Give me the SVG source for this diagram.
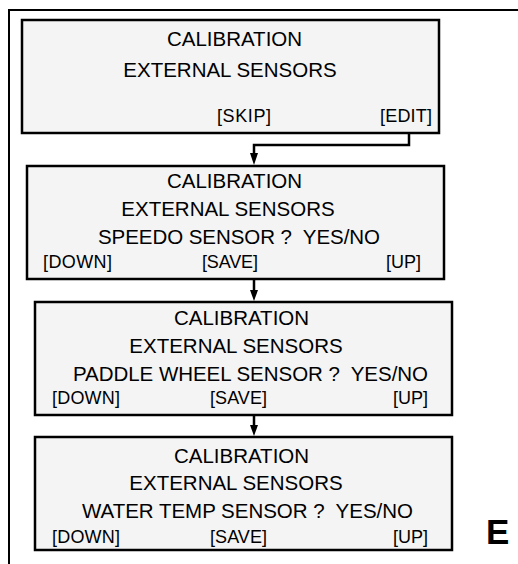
<svg xmlns="http://www.w3.org/2000/svg" width="518" height="564" viewBox="0 0 518 564">
<style>
.box{fill:#f4f4f4;stroke:#000;stroke-width:2.5}
.t{font-family:"Liberation Sans",Arial,sans-serif;font-size:20.5px;fill:#000;white-space:pre}
.s{font-family:"Liberation Sans",Arial,sans-serif;font-size:18px;fill:#000}
.c{fill:none;stroke:#000;stroke-width:2.5}
.ah{fill:#000}
</style>
<rect width="518" height="564" fill="#fff"/>
<g id="frame">
<path d="M9,564 L9,10 L518,10" fill="none" stroke="#000" stroke-width="2"/>
</g>
<g id="connectors">
<path class="c" d="M409,133 L409,145 L254,145 L254,154"/>
<path class="ah" d="M250,153 L258,153 L254,165 Z"/>
<path class="c" d="M254,279 L254,291"/>
<path class="ah" d="M250,290 L258,290 L254,301 Z"/>
<path class="c" d="M254,415 L254,426"/>
<path class="ah" d="M250,425 L258,425 L254,436 Z"/>
</g>
<g id="node1">
<rect class="box" x="22" y="20" width="417" height="113"/>
<text class="t" x="234.5" y="46" text-anchor="middle">CALIBRATION</text>
<text class="t" x="230" y="77" text-anchor="middle">EXTERNAL SENSORS</text>
<text class="s" x="217" y="122" textLength="54">[SKIP]</text>
<text class="s" x="380" y="122" textLength="52">[EDIT]</text>
</g>
<g id="node2">
<rect class="box" x="27" y="166" width="417" height="113"/>
<text class="t" x="234.5" y="188" text-anchor="middle">CALIBRATION</text>
<text class="t" x="228" y="216" text-anchor="middle">EXTERNAL SENSORS</text>
<text class="t" x="98" y="244" textLength="282" xml:space="preserve">SPEEDO SENSOR ?  YES/NO</text>
<text class="s" x="43" y="268" textLength="69">[DOWN]</text>
<text class="s" x="202" y="268" textLength="56">[SAVE]</text>
<text class="s" x="386" y="268" textLength="35">[UP]</text>
</g>
<g id="node3">
<rect class="box" x="35" y="302" width="417" height="113"/>
<text class="t" x="241.5" y="325" text-anchor="middle">CALIBRATION</text>
<text class="t" x="236" y="353" text-anchor="middle">EXTERNAL SENSORS</text>
<text class="t" x="73" y="381" textLength="355" xml:space="preserve">PADDLE WHEEL SENSOR ?  YES/NO</text>
<text class="s" x="52" y="404" textLength="68">[DOWN]</text>
<text class="s" x="210" y="404" textLength="57">[SAVE]</text>
<text class="s" x="393" y="404" textLength="35">[UP]</text>
</g>
<g id="node4">
<rect class="box" x="35" y="437" width="417" height="113"/>
<text class="t" x="241.5" y="463" text-anchor="middle">CALIBRATION</text>
<text class="t" x="236" y="490" text-anchor="middle">EXTERNAL SENSORS</text>
<text class="t" x="82" y="518" textLength="331" xml:space="preserve">WATER TEMP SENSOR ?  YES/NO</text>
<text class="s" x="52" y="543" textLength="68">[DOWN]</text>
<text class="s" x="210" y="543" textLength="57">[SAVE]</text>
<text class="s" x="393" y="543" textLength="35">[UP]</text>
</g>
<text x="486" y="544" font-family="'Liberation Sans',Arial,sans-serif" font-weight="bold" font-size="35" fill="#000">E</text>
</svg>
